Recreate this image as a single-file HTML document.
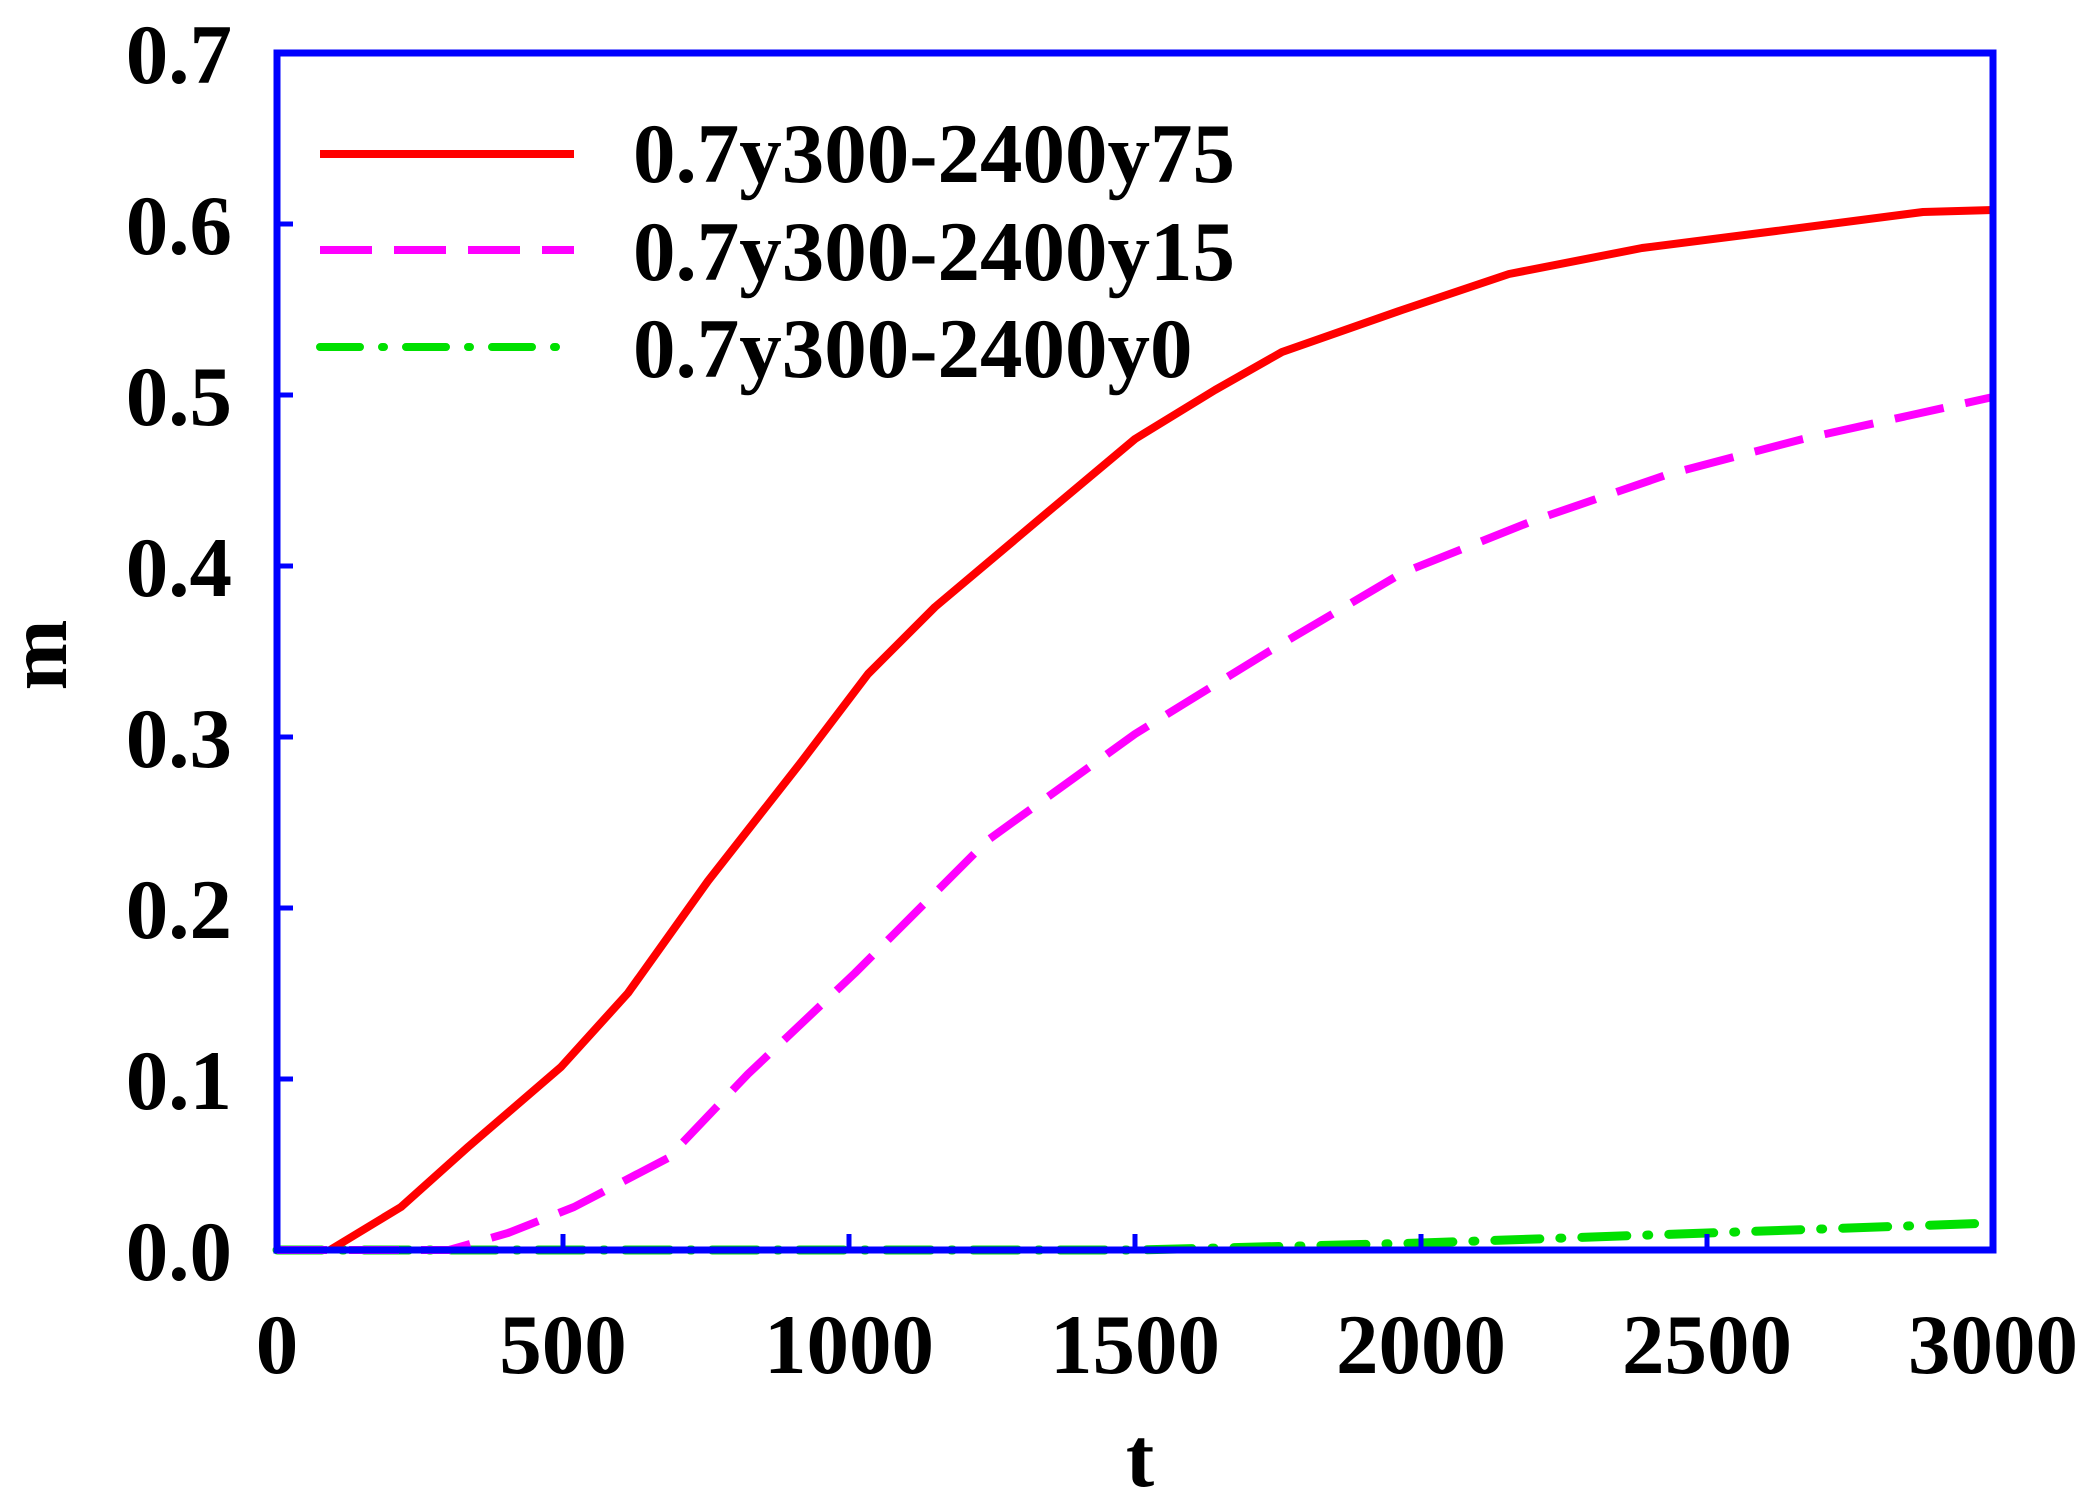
<!DOCTYPE html>
<html><head><meta charset="utf-8"><style>
html,body{margin:0;padding:0;background:#fff}
svg{display:block}
text{font-family:"Liberation Serif",serif;font-weight:bold;fill:#000}
</style></head><body>
<svg width="2095" height="1510" viewBox="0 0 2095 1510" xmlns="http://www.w3.org/2000/svg">
<rect width="2095" height="1510" fill="#fff"/>
<polyline fill="none" stroke="#00e000" stroke-width="9" stroke-linecap="round" stroke-dasharray="45 20 2 20" points="277,1250 1135,1250 1421,1243 1707,1233 1993,1223"/>
<polyline fill="none" stroke="#ff00ff" stroke-width="8" stroke-linejoin="round" stroke-dasharray="50 22" points="277,1250 449,1250 508,1233 574,1207 668,1158 748,1074 855,973 988,840 1135,734 1268,652 1402,573 1535,520 1669,474 1803,439 1993,397"/>
<polyline fill="none" stroke="#ff0000" stroke-width="8" stroke-linejoin="round" points="330,1250 401,1207 468,1147 561,1067 628,993 708,881 802,761 868,674 935,607 1055,506 1135,439 1215,390 1282,352 1402,310 1509,274 1642,248 1776,231 1923,212 1993,210"/>
<rect x="277" y="53" width="1716" height="1197" fill="none" stroke="#0000ff" stroke-width="7"/>
<g stroke="#0000ff" stroke-width="5">
<line x1="277" y1="224" x2="293" y2="224"/><line x1="277" y1="395" x2="293" y2="395"/>
<line x1="277" y1="566" x2="293" y2="566"/><line x1="277" y1="737" x2="293" y2="737"/>
<line x1="277" y1="908" x2="293" y2="908"/><line x1="277" y1="1079" x2="293" y2="1079"/>
<line x1="563" y1="1250" x2="563" y2="1234"/><line x1="849" y1="1250" x2="849" y2="1234"/>
<line x1="1135" y1="1250" x2="1135" y2="1234"/><line x1="1421" y1="1250" x2="1421" y2="1234"/>
<line x1="1707" y1="1250" x2="1707" y2="1234"/>
</g>
<g font-size="85" text-anchor="end">
<text x="232" y="83">0.7</text>
<text x="232" y="254">0.6</text>
<text x="232" y="425">0.5</text>
<text x="232" y="596">0.4</text>
<text x="232" y="767">0.3</text>
<text x="232" y="938">0.2</text>
<text x="232" y="1109">0.1</text>
<text x="232" y="1280">0.0</text>
</g>
<g font-size="85" text-anchor="middle">
<text x="277" y="1373">0</text>
<text x="563" y="1373">500</text>
<text x="849" y="1373">1000</text>
<text x="1135" y="1373">1500</text>
<text x="1421" y="1373">2000</text>
<text x="1707" y="1373">2500</text>
<text x="1993" y="1373">3000</text>
</g>
<text x="1140" y="1486" font-size="85" text-anchor="middle">t</text>
<text transform="translate(66,655) rotate(-90)" font-size="85" text-anchor="middle">m</text>
<line x1="320" y1="154" x2="574" y2="154" stroke="#ff0000" stroke-width="8"/>
<line x1="320" y1="250" x2="574" y2="250" stroke="#ff00ff" stroke-width="8" stroke-dasharray="52 22"/>
<line x1="320" y1="347" x2="574" y2="347" stroke="#00e000" stroke-width="8" stroke-linecap="round" stroke-dasharray="40 22 2 22"/>
<g font-size="85">
<text x="633" y="182">0.7y300-2400y75</text>
<text x="633" y="280">0.7y300-2400y15</text>
<text x="633" y="377">0.7y300-2400y0</text>
</g>
</svg>
</body></html>
